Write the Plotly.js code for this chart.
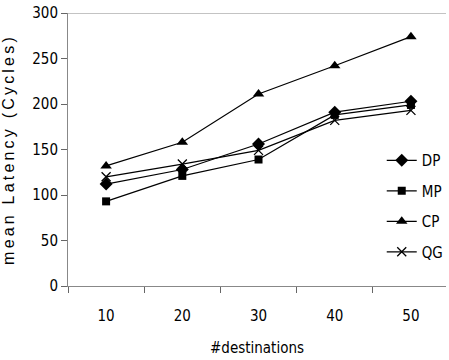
<!DOCTYPE html>
<html><head><meta charset="utf-8">
<script src="https://cdn.plot.ly/plotly-3.0.1.min.js"></script>
<style>
html,body{margin:0;padding:0;background:#fff;}
.ytitle{letter-spacing:3.2px;}
</style>
</head><body>
<div id="chart" style="width:449px;height:360px;"></div>
<script>
const categories = ["10", "20", "30", "40", "50"];
const dpValues = [112, 128, 156, 191, 203];
const mpValues = [93, 121, 139, 188, 199];
const cpValues = [132, 158, 211, 242, 274];
const qgValues = [120, 134, 149, 182, 193];

const narrow = "'Liberation Sans Narrow', 'DejaVu Sans Condensed', Arial, sans-serif";
function tr(name, vals, symbol, size){
  return {x: categories, y: vals, name: name, type: 'scatter', mode: 'lines+markers',
    legendgroup: name,
    line: {color: '#000', width: 1.2},
    marker: {symbol: symbol, size: size, color: '#000', line: {color: '#000', width: symbol.indexOf('x')===0 ? 1.3 : 0}}};
}
const data = [
  tr('DP', dpValues, 'diamond', 10),
  tr('MP', mpValues, 'square', 8),
  tr('CP', cpValues, 'triangle-up', 10),
  tr('QG', qgValues, 'x-thin-open', 9)
];
const layout = {
  width: 449, height: 360,
  margin: {l: 68, r: 0, t: 13, b: 74},
  paper_bgcolor: '#fff', plot_bgcolor: '#fff',
  showlegend: true,
  legend: {x: 0.83, y: 0.52, xanchor: 'left', yanchor: 'top', bgcolor: 'rgba(0,0,0,0)',
    font: {family: narrow, size: 15, color: '#000'}, tracegroupgap: 8, traceorder: 'grouped'},
  xaxis: {type: 'category', range: [-0.5, 4.46], showgrid: false, zeroline: false,
    showline: true, mirror: false, linecolor: '#888', linewidth: 1,
    ticks: 'outside', tickson: 'boundaries', ticklen: 6, tickcolor: '#666',
    ticklabelstandoff: 16,
    tickfont: {family: narrow, size: 15, color: '#000'},
    title: {text: '#destinations', font: {family: narrow, size: 15, color: '#000'}, standoff: 18}},
  yaxis: {range: [0, 300], tickvals: [0, 50, 100, 150, 200, 250, 300], showgrid: false, zeroline: false,
    showline: true, linecolor: '#888', linewidth: 1,
    ticks: 'outside', ticklen: 6, tickcolor: '#666',
    tickfont: {family: narrow, size: 15, color: '#000'},
    title: {text: 'mean Latency (Cycles)', font: {family: "'Liberation Sans', Arial, sans-serif", size: 16, color: '#000'}, standoff: 18}},
  shapes: [{type: 'line', xref: 'paper', yref: 'y', x0: 0, x1: 1, y0: 300, y1: 300, line: {color: '#888', width: 1}}]
};
Plotly.newPlot('chart', data, layout, {displayModeBar: false, staticPlot: true});
</script>
</body></html>
